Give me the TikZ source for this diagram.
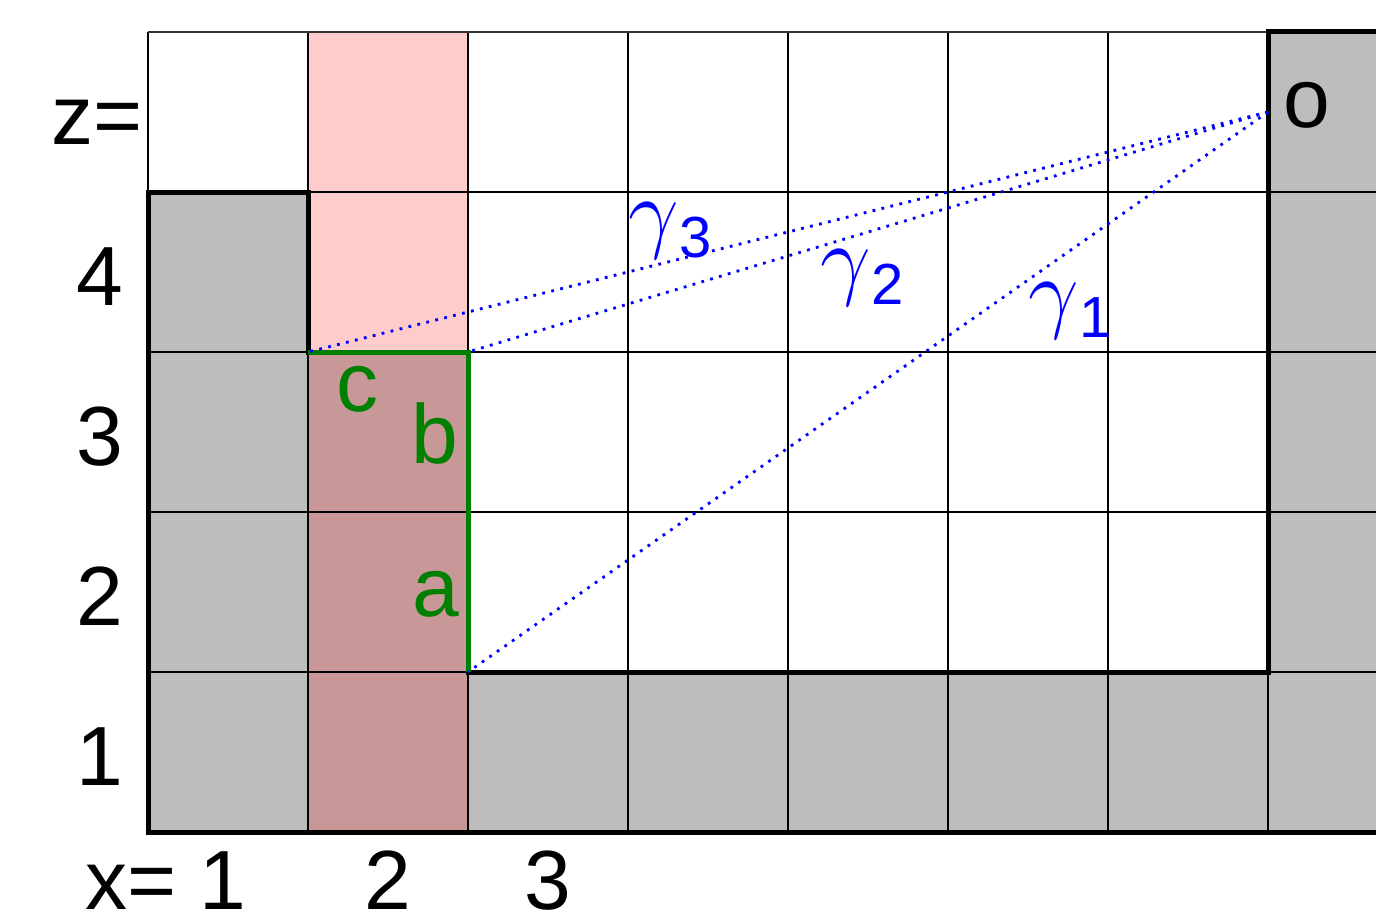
\RequirePackage{fix-cm}
\documentclass[tikz,border=0pt]{standalone}
\usepackage{fontspec}
\setmainfont{Liberation Sans}
\definecolor{cellgray}{HTML}{BDBDBD}
\definecolor{cellpink}{HTML}{FFCCCC}
\definecolor{cellmix}{HTML}{C89898}
\definecolor{pathgreen}{HTML}{008000}
\definecolor{rayblue}{HTML}{0000FF}
\newcommand{\gsub}[1]{{\fontsize{45}{45}\selectfont$\gamma$}\raisebox{-8pt}{\fontsize{29}{32}\selectfont #1}}
\begin{document}
\begin{tikzpicture}[x=0.5pt,y=-0.5pt,
  lbl/.style={font=\fontsize{42}{48}\selectfont, inner sep=0pt, anchor=base},
  glbl/.style={lbl, text=pathgreen},
  gam/.style={inner sep=0pt, anchor=base west, text=rayblue},
  vgrid/.style={line width=0.8pt, black},
  hgrid/.style={line width=1.3pt, black},
  wall/.style={line width=2.5pt, black, line cap=rect},
  wallpath/.style={line width=2.5pt, pathgreen},
  ray/.style={rayblue, line width=1.4pt, dash pattern=on 1.4pt off 3.2pt}]
\useasboundingbox (0,0) rectangle (1376,915);
% fills
\fill[cellgray] (148,192) rectangle (308,832);
\fill[cellgray] (148,672) rectangle (1376,832);
\fill[cellgray] (1268,32) rectangle (1376,832);
\fill[cellpink] (308,32) rectangle (468,352);
\fill[cellmix] (308,352) rectangle (468,832);
% grid
\foreach \x in {148,308,...,1268} \draw[vgrid] (\x,32) -- (\x,832);
\foreach \y in {192,352,512,672} \draw[hgrid] (148,\y) -- (1376,\y);
\draw[line width=0.6pt, black!80] (148,32) -- (1268,32);
% walls
\draw[wall] (308,352) -- (308,192) -- (148,192) -- (148,832) -- (1376,832);
\draw[wall] (468,672) -- (1268,672) -- (1268,32) -- (1376,32);
% points
\coordinate (O) at (1268,112);
\coordinate (P1) at (468,672);
\coordinate (P2) at (468,352);
\coordinate (P3) at (308,352);
% green path
\draw[wallpath] (P3) -- (P2) -- (P1);
% rays
\draw[ray] (O) -- (P1);
\draw[ray] (O) -- (P2);
\draw[ray] (O) -- (P3);
% labels
\node[lbl, anchor=base east] (zl) at (143,145) {z=};
\node[lbl] (z4) at (100,305) {4};
\node[lbl] (z3) at (100,465) {3};
\node[lbl] (z2) at (100,625) {2};
\node[lbl] (z1) at (100,785) {1};
\node[lbl, anchor=base west] (x1) at (85,909) {x= 1};
\node[lbl] (x2) at (388,909) {2};
\node[lbl] (x3) at (548,909) {3};
\node[lbl] (ol) at (1307,127) {o};
\node[glbl] (cl) at (357,411) {c};
\node[glbl] (bl) at (435,463) {b};
\node[glbl] (al) at (436,616) {a};
\node[gam] (g3) at (628,241) {\gsub{3}};
\node[gam] (g2) at (820,288) {\gsub{2}};
\node[gam] (g1) at (1028,321) {\gsub{1}};
\end{tikzpicture}
\end{document}
